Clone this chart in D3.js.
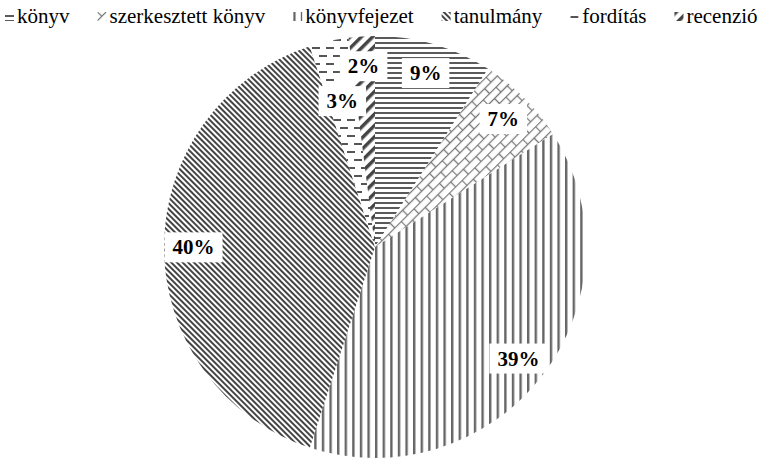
<!DOCTYPE html>
<html>
<head>
<meta charset="utf-8">
<script src="https://cdn.jsdelivr.net/npm/d3@7"></script>
<style>
  body { margin: 0; background: #fff; }
  svg { display: block; }
  text { font-family: "Liberation Serif", "DejaVu Serif", serif; }
</style>
</head>
<body>
<svg id="chart" width="770" height="467"></svg>
<script>
// data
var categories = ['könyv', 'szerkesztett könyv', 'könyvfejezet', 'tanulmány', 'fordítás', 'recenzió'];
var values = [9, 7, 39, 40, 3, 2];
var labels = ['9%', '7%', '39%', '40%', '3%', '2%'];

var width = 770, height = 467;
var cx = 375, cy = 247, radius = 211;

var svg = d3.select('#chart');
var defs = svg.append('defs');

// fill patterns, one per category
function makePattern(id, w, h, build, transform) {
	var p = defs.append('pattern')
		.attr('id', id)
		.attr('patternUnits', 'userSpaceOnUse')
		.attr('width', w)
		.attr('height', h);
	if (transform) p.attr('patternTransform', transform);
	p.append('rect').attr('width', w).attr('height', h).attr('fill', '#fff');
	build(p);
	return p;
}

// horizontal lines
makePattern('p0', 5, 5, function(p) {
	p.append('rect').attr('x', 0).attr('y', 0).attr('width', 5).attr('height', 2).attr('fill', '#5a5a5a');
});
// diagonal brick
makePattern('p1', 18, 14, function(p) {
	var g = p.append('g').attr('stroke', '#777').attr('stroke-width', 1.3).attr('fill', 'none');
	g.append('line').attr('x1', 0).attr('y1', 0.5).attr('x2', 18).attr('y2', 0.5);
	g.append('line').attr('x1', 0).attr('y1', 7.5).attr('x2', 18).attr('y2', 7.5);
	g.append('line').attr('x1', 0.5).attr('y1', 0).attr('x2', 0.5).attr('y2', 7.5);
	g.append('line').attr('x1', 9.5).attr('y1', 7.5).attr('x2', 9.5).attr('y2', 14);
}, 'rotate(-45)');
// vertical lines
makePattern('p2', 7.6, 8, function(p) {
	p.append('rect').attr('x', 0).attr('y', 0).attr('width', 2.4).attr('height', 8).attr('fill', '#666');
});
// fine diagonal lines (\)
makePattern('p3', 4, 8, function(p) {
	p.append('rect').attr('x', 0).attr('y', 0).attr('width', 2).attr('height', 8).attr('fill', '#444');
}, 'rotate(-45)');
// dashed horizontal
makePattern('p4', 14, 16, function(p) {
	p.append('rect').attr('x', 0).attr('y', 0).attr('width', 8).attr('height', 2).attr('fill', '#555');
	p.append('rect').attr('x', 7).attr('y', 8).attr('width', 8).attr('height', 2).attr('fill', '#555');
	p.append('rect').attr('x', -7).attr('y', 8).attr('width', 8).attr('height', 2).attr('fill', '#555');
});
// wide diagonal (/)
makePattern('p5', 8, 8, function(p) {
	p.append('rect').attr('x', 0).attr('y', 0).attr('width', 3.5).attr('height', 8).attr('fill', '#444');
}, 'rotate(45)');

var pie = d3.pie().sort(null).value(function(d) { return d; });
var arcs = pie(values);
var arc = d3.arc().innerRadius(0).outerRadius(radius);

var g = svg.append('g').attr('transform', 'translate(' + cx + ',' + cy + ')');

g.selectAll('path.slice')
	.data(arcs)
	.enter().append('path')
	.attr('class', 'slice')
	.attr('d', arc)
	.attr('fill', function(d, i) { return 'url(#p' + i + ')'; });

// labels with white boxes
var labelArc = d3.arc().innerRadius(radius * 0.86).outerRadius(radius * 0.86);
var innerLabelArc = d3.arc().innerRadius(radius * 0.71).outerRadius(radius * 0.71);

arcs.forEach(function(d, i) {
	// small neighbouring slices: pull every other one inward
	var a = (d.data < 5 && i % 2 === 0) ? innerLabelArc : labelArc;
	var c = a.centroid(d);
	var lg = g.append('g').attr('transform', 'translate(' + c[0] + ',' + c[1] + ')');
	var t = lg.append('text')
		.attr('text-anchor', 'middle')
		.attr('dy', '0.35em')
		.attr('font-weight', 'bold')
		.attr('font-size', 21)
		.attr('fill', '#000')
		.text(labels[i]);
	var bb = t.node().getBBox();
	lg.insert('rect', 'text')
		.attr('x', bb.x - 8)
		.attr('y', bb.y - 3)
		.attr('width', bb.width + 16)
		.attr('height', bb.height + 6)
		.attr('fill', '#fff');
});

// legend
var legend = svg.append('g').attr('class', 'legend');
var x = 5;
categories.forEach(function(name, i) {
	var item = legend.append('g').attr('transform', 'translate(' + x + ',0)');
	item.append('rect')
		.attr('x', 0).attr('y', 12)
		.attr('width', 9).attr('height', 9)
		.attr('fill', 'url(#p' + i + ')');
	var t = item.append('text')
		.attr('x', 12)
		.attr('y', 23)
		.attr('font-size', 21)
		.attr('fill', '#000')
		.text(name);
	x += 12 + t.node().getComputedTextLength() + 28;
});
</script>
</body>
</html>
